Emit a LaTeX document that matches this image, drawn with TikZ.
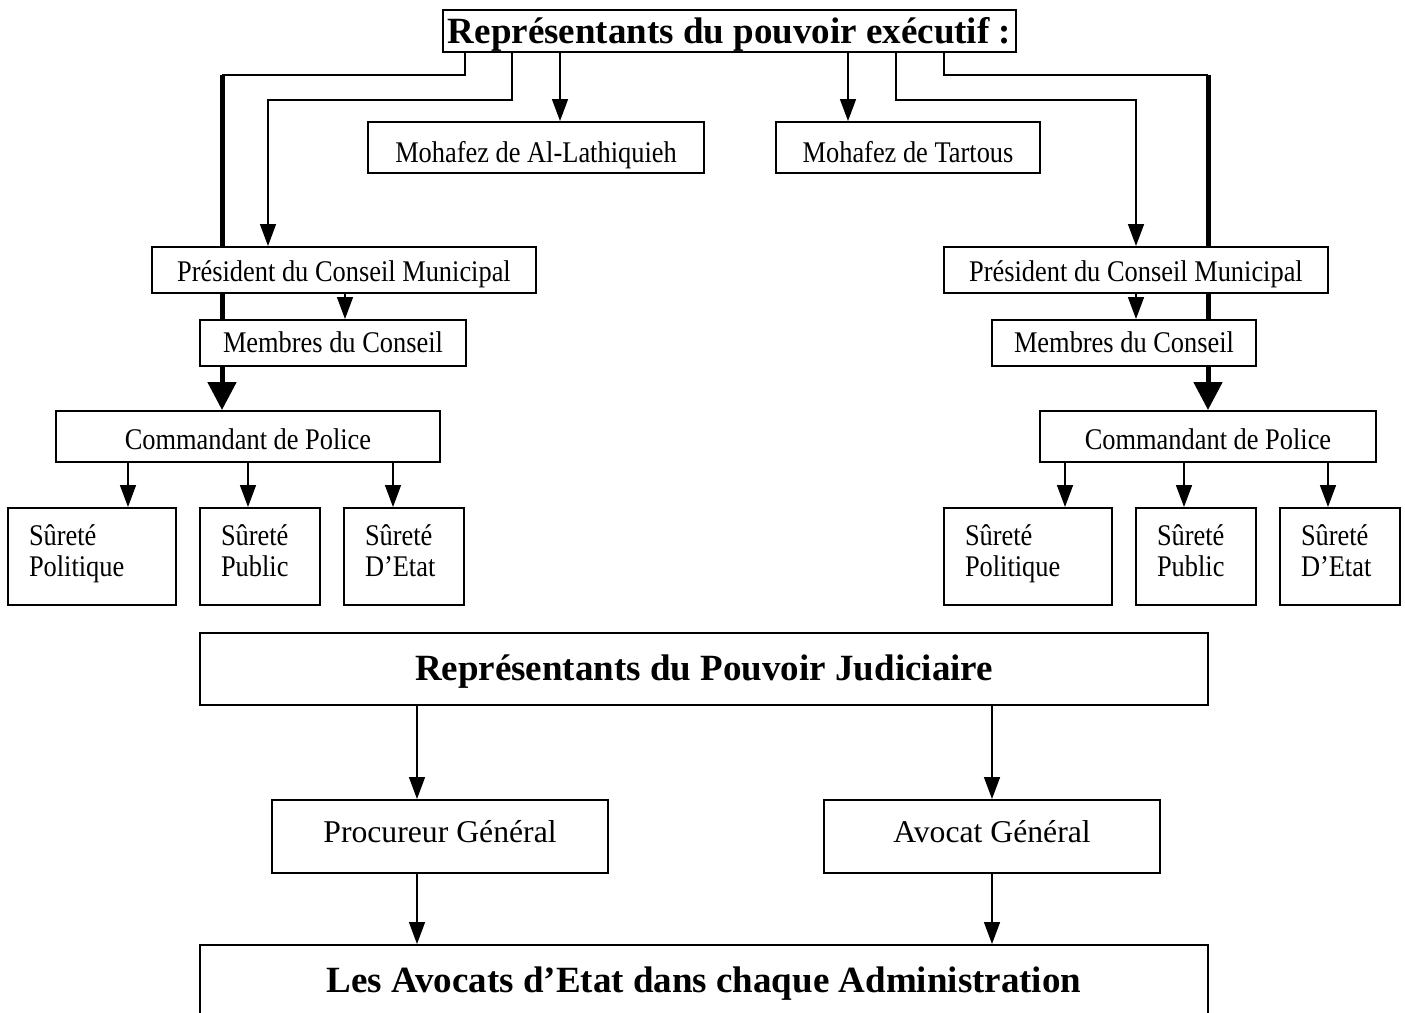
\documentclass[tikz,border=0pt]{standalone}
\usepackage{fontspec}
\setmainfont{Liberation Serif}
\newfontfamily\condfont{Liberation Serif}[FakeStretch=0.88]
\usetikzlibrary{arrows.meta,backgrounds}
\pgfdeclarelayer{bottom}
\pgfsetlayers{bottom,background,main}
\begin{document}
\begin{tikzpicture}[x=1pt,y=-1pt,
  box/.style={draw,line width=2pt,fill=white,inner sep=0pt,text depth=0pt,font=\condfont\fontsize{30}{31}\selectfont},
  bigbox/.style={box,font=\fontsize{31.7}{36}\selectfont},
  headbox/.style={box,font=\bfseries\fontsize{37}{40}\selectfont},
  surbox/.style={draw,line width=2pt,fill=white,inner sep=0pt,minimum height=97pt,font=\condfont\fontsize{30}{31}\selectfont},
  arr/.style={line width=1.5pt,-{Triangle[length=22pt,width=16pt]}},
  link/.style={line width=1.5pt},
  thickarr/.style={line width=5pt,-{Triangle[length=28pt,width=28pt]}}
]
\newcommand{\surtext}[3]{\parbox[c][97pt][t]{#1}{\hspace*{21pt}\rule{0pt}{37pt}#2\\\hspace*{21pt}#3}}
\clip (0,0) rectangle (1405,1012);
\begin{pgfonlayer}{bottom}
\fill[white] (0,0) rectangle (1405,1012);
\end{pgfonlayer}

% executive
\node[headbox,minimum width=573pt,minimum height=42pt,text height=24pt] (title) at (729.5,31) {Représentants du pouvoir exécutif :};
\node[box,minimum width=336pt,minimum height=51pt,text height=29pt] (mohL) at (536,147.5) {Mohafez de Al-Lathiquieh};
\node[box,minimum width=264pt,minimum height=51pt,text height=29pt] (mohT) at (908,147.5) {Mohafez de Tartous};

% left branch
\node[box,minimum width=384pt,minimum height=46pt,text height=22pt] (presL) at (344,270) {Président du Conseil Municipal};
\node[box,minimum width=266pt,minimum height=46pt,text height=18pt] (membL) at (333,343) {Membres du Conseil};
\node[box,minimum width=384pt,minimum height=51pt,text height=25pt] (comL) at (248,436.5) {Commandant de Police};
\node[surbox,minimum width=168pt] (s1L) at (92,556.5) {\surtext{168pt}{Sûreté}{Politique}};
\node[surbox,minimum width=120pt] (s2L) at (260,556.5) {\surtext{120pt}{Sûreté}{Public}};
\node[surbox,minimum width=120pt] (s3L) at (404,556.5) {\surtext{120pt}{Sûreté}{D’Etat}};

% right branch
\node[box,minimum width=384pt,minimum height=46pt,text height=22pt] (presR) at (1136,270) {Président du Conseil Municipal};
\node[box,minimum width=264pt,minimum height=46pt,text height=18pt] (membR) at (1124,343) {Membres du Conseil};
\node[box,minimum width=336pt,minimum height=51pt,text height=25pt] (comR) at (1208,436.5) {Commandant de Police};
\node[surbox,minimum width=168pt] (s1R) at (1028,556.5) {\surtext{168pt}{Sûreté}{Politique}};
\node[surbox,minimum width=120pt] (s2R) at (1196,556.5) {\surtext{120pt}{Sûreté}{Public}};
\node[surbox,minimum width=120pt] (s3R) at (1340,556.5) {\surtext{120pt}{Sûreté}{D’Etat}};

% judiciary
\node[headbox,minimum width=1008pt,minimum height=72pt,text height=22pt] (jud) at (704,669) {Représentants du Pouvoir Judiciaire};
\node[bigbox,minimum width=336pt,minimum height=73pt,text height=11pt] (proc) at (440,836.5) {Procureur Général};
\node[bigbox,minimum width=336pt,minimum height=73pt,text height=11pt] (avoc) at (992,836.5) {Avocat Général};
\node[headbox,minimum width=1008pt,minimum height=75pt,text height=20pt] (avet) at (704,982.5) {Les Avocats d’Etat dans chaque Administration};

\coordinate (jL) at (222,75);
\coordinate (kL) at (268,100);
\coordinate (jR) at (1208,75);
\coordinate (kR) at (1136,100);

\begin{pgfonlayer}{background}
% left
\draw[link] (title.south -| 465,0) |- (jL);
\draw[thickarr] (jL) -- (jL |- comL.north);
\draw[arr] (title.south -| 512,0) |- (kL) -- (kL |- presL.north);
\draw[arr] (title.south -| 560,0) -- (mohL.north -| 560,0);
% right
\draw[arr] (title.south -| 848,0) -- (mohT.north -| 848,0);
\draw[arr] (title.south -| 896,0) |- (kR) -- (kR |- presR.north);
\draw[link] (title.south -| 944,0) |- (jR);
\draw[thickarr] (jR) -- (jR |- comR.north);
% councils
\draw[arr] (presL.south -| 345,0) -- (membL.north -| 345,0);
\draw[arr] (presR.south) -- (membR.north -| presR.south);
% police
\draw[arr] (comL.south -| 128,0) -- (s1L.north -| 128,0);
\draw[arr] (comL.south -| 248,0) -- (s2L.north -| 248,0);
\draw[arr] (comL.south -| 393,0) -- (s3L.north -| 393,0);
\draw[arr] (comR.south -| 1065,0) -- (s1R.north -| 1065,0);
\draw[arr] (comR.south -| 1184,0) -- (s2R.north -| 1184,0);
\draw[arr] (comR.south -| 1328,0) -- (s3R.north -| 1328,0);
% judiciary
\draw[arr] (jud.south -| 417,0) -- (proc.north -| 417,0);
\draw[arr] (jud.south -| 992,0) -- (avoc.north);
\draw[arr] (proc.south -| 417,0) -- (avet.north -| 417,0);
\draw[arr] (avoc.south) -- (avet.north -| avoc.south);
\end{pgfonlayer}
\end{tikzpicture}
\end{document}
